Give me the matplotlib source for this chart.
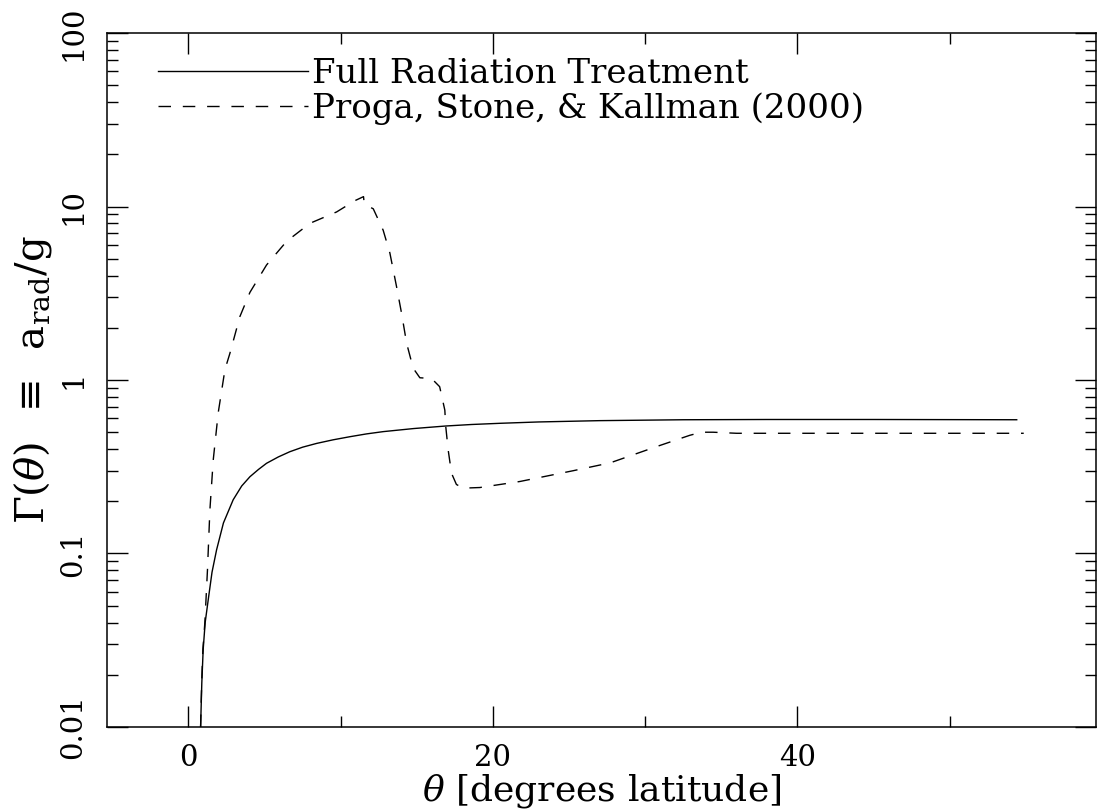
import numpy as np
import matplotlib
matplotlib.use('Agg')
from matplotlib import pyplot as plt
from matplotlib.ticker import LogLocator, FixedLocator, NullFormatter

plt.rcParams['font.family'] = ['DejaVu Serif']
plt.rcParams['mathtext.fontset'] = 'dejavuserif'

# full radiation treatment (solid)
theta_full = [0.80, 0.88, 0.97, 1.10, 1.30, 1.55, 1.85, 2.30, 2.94, 3.50, 4.04, 4.60,
              5.13, 5.90, 6.66, 7.50, 8.42, 9.50, 10.6, 11.7, 12.8, 14.8, 16.9, 18.6,
              20.5, 23.0, 27.0, 32.5, 38.0, 45.0, 54.4]
gamma_full = [0.010, 0.018, 0.028, 0.040, 0.054, 0.078, 0.105, 0.150, 0.204, 0.245, 0.277, 0.305,
              0.331, 0.360, 0.386, 0.410, 0.431, 0.452, 0.471, 0.489, 0.504, 0.525, 0.543, 0.554,
              0.563, 0.573, 0.583, 0.590, 0.592, 0.592, 0.590]

# Proga, Stone & Kallman (2000) (dashed)
theta_psk = [0.80, 0.87, 0.95, 1.08, 1.25, 1.41, 1.63, 1.96, 2.40, 2.72, 3.38, 4.04,
             5.13, 6.45, 7.98, 9.73, 10.93, 11.50, 11.55, 12.14, 12.79, 13.23, 13.67, 14.00,
             14.33, 14.76, 15.20, 15.97, 16.50, 16.84, 16.90, 17.06, 17.28, 17.60, 18.04, 19.14,
             21.77, 25.27, 27.70, 30.74, 32.93, 33.70, 34.46, 36.00, 54.86]
gamma_psk = [0.010, 0.018, 0.028, 0.040, 0.080, 0.178, 0.346, 0.650, 1.15, 1.42, 2.32, 3.20,
             4.60, 6.30, 8.00, 9.30, 10.8, 11.4, 10.3, 9.70, 7.30, 5.40, 3.45, 2.42,
             1.63, 1.17, 1.03, 1.02, 0.915, 0.67, 0.54, 0.395, 0.29, 0.25, 0.238, 0.240,
             0.260, 0.300, 0.333, 0.413, 0.480, 0.500, 0.500, 0.493, 0.493]

fig = plt.figure(figsize=(10.97, 8.11), dpi=100)
ax = fig.add_axes([0.0975, 0.1036, 0.9015, 0.8557])

ax.plot(theta_full, gamma_full, 'k-', lw=1.0, label='Full Radiation Treatment')
ax.plot(theta_psk, gamma_psk, 'k--', lw=1.0, dashes=(9, 8.5),
        label='Proga, Stone, & Kallman (2000)')

ax.set_yscale('log')
ax.set_xlim(-5.35, 59.6)
ax.set_ylim(0.01, 100)

ax.xaxis.set_major_locator(FixedLocator([0, 20, 40]))
ax.xaxis.set_minor_locator(FixedLocator([10, 30, 50]))
ax.yaxis.set_major_locator(FixedLocator([0.01, 0.1, 1, 10, 100]))
ax.yaxis.set_minor_locator(LogLocator(base=10, subs=np.arange(2, 10)))
ax.yaxis.set_minor_formatter(NullFormatter())
ax.set_yticklabels(['0.01', '0.1', '1', '10', '100'])

ax.tick_params(which='both', direction='in', top=True, right=True, width=1.0, labelsize=21)
ax.tick_params(which='major', length=15)
ax.tick_params(which='minor', length=8)
ax.tick_params(axis='x', pad=12)
ax.tick_params(axis='y', labelrotation=90, pad=14)
for lab in ax.get_yticklabels():
    lab.set_va('center')

for s in ax.spines.values():
    s.set_linewidth(1.1)

ax.set_xlabel(r'$\theta$ [degrees latitude]', fontsize=26, labelpad=0)
ax.set_ylabel(r'$\Gamma(\theta)\;\;\equiv\;\;\mathrm{a}_{\mathrm{rad}}/\mathrm{g}$', fontsize=29, labelpad=4)

leg = ax.legend(loc='upper left', bbox_to_anchor=(0.028, 0.998), frameon=False, fontsize=24.5,
                handlelength=4.4, handletextpad=0.12, labelspacing=0.05, borderaxespad=0.3)

fig.savefig('out.png', dpi=100)
